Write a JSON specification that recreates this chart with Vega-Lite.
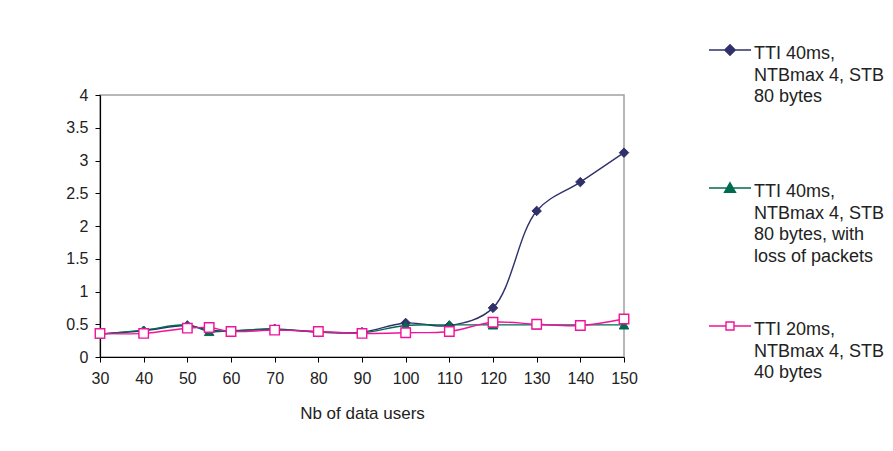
{
  "$schema": "https://vega.github.io/schema/vega-lite/v6.json",
  "autosize": {"type": "none"},
  "width": 524,
  "height": 262,
  "padding": {"left": 100, "top": 95, "right": 269, "bottom": 94},
  "background": "white",
  "config": {
    "font": "Liberation Sans",
    "view": {"stroke": "#a0a0a0", "strokeWidth": 1.5},
    "axis": {
      "grid": false,
      "domainColor": "#000000",
      "domainWidth": 1.2,
      "tickColor": "#000000",
      "tickSize": 5,
      "labelColor": "#222222",
      "labelFont": "Liberation Sans",
      "labelFontSize": 16,
      "titleFont": "Liberation Sans",
      "titleFontWeight": "normal",
      "titleColor": "#222222",
      "titleFontSize": 17
    }
  },
  "data": {
    "values": [
      {"users": 30, "value": 0.35, "series": "TTI 40ms, NTBmax 4, STB 80 bytes"},
      {"users": 40, "value": 0.40, "series": "TTI 40ms, NTBmax 4, STB 80 bytes"},
      {"users": 50, "value": 0.48, "series": "TTI 40ms, NTBmax 4, STB 80 bytes"},
      {"users": 55, "value": 0.41, "series": "TTI 40ms, NTBmax 4, STB 80 bytes"},
      {"users": 60, "value": 0.40, "series": "TTI 40ms, NTBmax 4, STB 80 bytes"},
      {"users": 70, "value": 0.43, "series": "TTI 40ms, NTBmax 4, STB 80 bytes"},
      {"users": 80, "value": 0.38, "series": "TTI 40ms, NTBmax 4, STB 80 bytes"},
      {"users": 90, "value": 0.38, "series": "TTI 40ms, NTBmax 4, STB 80 bytes"},
      {"users": 100, "value": 0.52, "series": "TTI 40ms, NTBmax 4, STB 80 bytes"},
      {"users": 110, "value": 0.48, "series": "TTI 40ms, NTBmax 4, STB 80 bytes"},
      {"users": 120, "value": 0.75, "series": "TTI 40ms, NTBmax 4, STB 80 bytes"},
      {"users": 130, "value": 2.23, "series": "TTI 40ms, NTBmax 4, STB 80 bytes"},
      {"users": 140, "value": 2.67, "series": "TTI 40ms, NTBmax 4, STB 80 bytes"},
      {"users": 150, "value": 3.12, "series": "TTI 40ms, NTBmax 4, STB 80 bytes"},
      {"users": 30, "value": 0.35, "series": "TTI 40ms, NTBmax 4, STB 80 bytes, with loss of packets"},
      {"users": 40, "value": 0.41, "series": "TTI 40ms, NTBmax 4, STB 80 bytes, with loss of packets"},
      {"users": 50, "value": 0.49, "series": "TTI 40ms, NTBmax 4, STB 80 bytes, with loss of packets"},
      {"users": 55, "value": 0.39, "series": "TTI 40ms, NTBmax 4, STB 80 bytes, with loss of packets"},
      {"users": 60, "value": 0.40, "series": "TTI 40ms, NTBmax 4, STB 80 bytes, with loss of packets"},
      {"users": 70, "value": 0.42, "series": "TTI 40ms, NTBmax 4, STB 80 bytes, with loss of packets"},
      {"users": 80, "value": 0.38, "series": "TTI 40ms, NTBmax 4, STB 80 bytes, with loss of packets"},
      {"users": 90, "value": 0.37, "series": "TTI 40ms, NTBmax 4, STB 80 bytes, with loss of packets"},
      {"users": 100, "value": 0.48, "series": "TTI 40ms, NTBmax 4, STB 80 bytes, with loss of packets"},
      {"users": 110, "value": 0.49, "series": "TTI 40ms, NTBmax 4, STB 80 bytes, with loss of packets"},
      {"users": 120, "value": 0.49, "series": "TTI 40ms, NTBmax 4, STB 80 bytes, with loss of packets"},
      {"users": 130, "value": 0.49, "series": "TTI 40ms, NTBmax 4, STB 80 bytes, with loss of packets"},
      {"users": 140, "value": 0.49, "series": "TTI 40ms, NTBmax 4, STB 80 bytes, with loss of packets"},
      {"users": 150, "value": 0.49, "series": "TTI 40ms, NTBmax 4, STB 80 bytes, with loss of packets"},
      {"users": 30, "value": 0.36, "series": "TTI 20ms, NTBmax 4, STB 40 bytes"},
      {"users": 40, "value": 0.36, "series": "TTI 20ms, NTBmax 4, STB 40 bytes"},
      {"users": 50, "value": 0.44, "series": "TTI 20ms, NTBmax 4, STB 40 bytes"},
      {"users": 55, "value": 0.45, "series": "TTI 20ms, NTBmax 4, STB 40 bytes"},
      {"users": 60, "value": 0.39, "series": "TTI 20ms, NTBmax 4, STB 40 bytes"},
      {"users": 70, "value": 0.41, "series": "TTI 20ms, NTBmax 4, STB 40 bytes"},
      {"users": 80, "value": 0.39, "series": "TTI 20ms, NTBmax 4, STB 40 bytes"},
      {"users": 90, "value": 0.36, "series": "TTI 20ms, NTBmax 4, STB 40 bytes"},
      {"users": 100, "value": 0.37, "series": "TTI 20ms, NTBmax 4, STB 40 bytes"},
      {"users": 110, "value": 0.39, "series": "TTI 20ms, NTBmax 4, STB 40 bytes"},
      {"users": 120, "value": 0.53, "series": "TTI 20ms, NTBmax 4, STB 40 bytes"},
      {"users": 130, "value": 0.50, "series": "TTI 20ms, NTBmax 4, STB 40 bytes"},
      {"users": 140, "value": 0.48, "series": "TTI 20ms, NTBmax 4, STB 40 bytes"},
      {"users": 150, "value": 0.58, "series": "TTI 20ms, NTBmax 4, STB 40 bytes"}
    ]
  },
  "encoding": {
    "x": {
      "field": "users",
      "type": "quantitative",
      "scale": {"domain": [30, 150], "nice": false, "zero": false},
      "axis": {
        "title": "Nb of data users",
        "values": [30, 40, 50, 60, 70, 80, 90, 100, 110, 120, 130, 140, 150],
        "labelPadding": 8,
        "titlePadding": 19,
        "labelFlush": false
      }
    },
    "y": {
      "field": "value",
      "type": "quantitative",
      "scale": {"domain": [0, 4], "nice": false},
      "axis": {
        "title": null,
        "values": [0, 0.5, 1, 1.5, 2, 2.5, 3, 3.5, 4],
        "format": "~g",
        "labelPadding": 7
      }
    }
  },
  "layer": [
    {
      "mark": {"type": "line", "interpolate": "catmull-rom", "strokeWidth": 1.4},
      "encoding": {
        "color": {
          "field": "series",
          "type": "nominal",
          "scale": {
            "domain": ["TTI 40ms, NTBmax 4, STB 80 bytes", "TTI 40ms, NTBmax 4, STB 80 bytes, with loss of packets", "TTI 20ms, NTBmax 4, STB 40 bytes"],
            "range": ["#30306b", "#006b4f", "#f0129a"]
          },
          "legend": {
            "orient": "none",
            "legendX": 608,
            "legendY": -67,
            "title": null,
            "padding": 0,
            "gridAlign": "all",
            "rowPadding": 37,
            "symbolSize": 1764,
            "symbolStrokeWidth": 1.4,
            "labelOffset": 2,
            "labelFont": "Liberation Sans",
            "labelFontSize": 18,
            "labelColor": "#222222",
            "labelLimit": 300,
            "labelBaseline": "top",
            "labelExpr": "datum.label == 'TTI 40ms, NTBmax 4, STB 80 bytes' ? ['TTI 40ms,', 'NTBmax 4, STB', '80 bytes'] : datum.label == 'TTI 40ms, NTBmax 4, STB 80 bytes, with loss of packets' ? ['TTI 40ms,', 'NTBmax 4, STB', '80 bytes, with', 'loss of packets'] : ['TTI 20ms,', 'NTBmax 4, STB', '40 bytes']",
            "encode": {
              "labels": {"update": {"lineHeight": {"value": 21.7}, "dy": {"value": -5}}},
              "symbols": {
                "update": {
                  "shape": {"signal": "datum.value == 'TTI 40ms, NTBmax 4, STB 80 bytes' ? 'M-1,0H1M0,-0.25L0.25,0L0,0.25L-0.25,0Z' : datum.value == 'TTI 20ms, NTBmax 4, STB 40 bytes' ? 'M-1,0H-0.19M0.19,0H1M-0.19,-0.19H0.19V0.19H-0.19Z' : 'M-1,0H1M0,-0.25L0.26,0.2L-0.26,0.2Z'"},
                  "fill": {"signal": "datum.value == 'TTI 40ms, NTBmax 4, STB 80 bytes' ? '#30306b' : datum.value == 'TTI 20ms, NTBmax 4, STB 40 bytes' ? '#ffffff' : '#006b4f'"},
                  "fillOpacity": {"value": 1}
                }
              }
            }
          }
        }
      }
    },
    {
      "transform": [{"filter": "datum.series == 'TTI 40ms, NTBmax 4, STB 80 bytes'"}],
      "mark": {"type": "point", "shape": "diamond", "filled": true, "fill": "#30306b", "stroke": "#30306b", "strokeWidth": 1, "opacity": 1, "size": 90}
    },
    {
      "transform": [{"filter": "datum.series == 'TTI 40ms, NTBmax 4, STB 80 bytes, with loss of packets'"}],
      "mark": {"type": "point", "shape": "triangle-up", "filled": true, "fill": "#006b4f", "stroke": "#006b4f", "strokeWidth": 1, "opacity": 1, "size": 90}
    },
    {
      "transform": [{"filter": "datum.series == 'TTI 20ms, NTBmax 4, STB 40 bytes'"}],
      "mark": {"type": "point", "shape": "square", "filled": false, "fill": "#ffffff", "fillOpacity": 1, "stroke": "#f0129a", "strokeWidth": 1.4, "opacity": 1, "size": 90}
    }
  ]
}
